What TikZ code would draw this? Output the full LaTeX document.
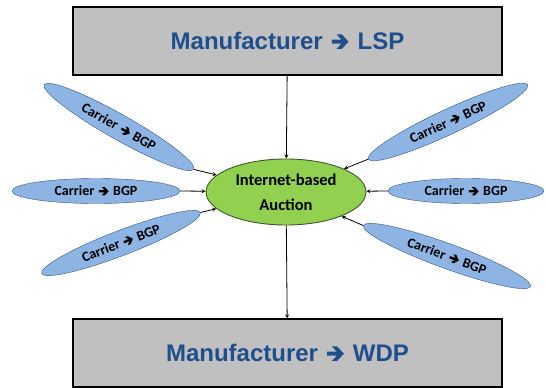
\documentclass[tikz,border=0pt]{standalone}
\usepackage{fontspec}
\setmainfont{Carlito}
\newfontfamily\arialfont{Liberation Sans}
\usetikzlibrary{shapes.geometric}
\definecolor{boxgray}{RGB}{192,192,192}
\definecolor{titleblue}{RGB}{31,78,140}
\definecolor{carrierfill}{RGB}{142,180,227}
\definecolor{carrierline}{RGB}{50,88,140}
\definecolor{auctionfill}{RGB}{146,208,80}
\definecolor{auctionline}{RGB}{60,90,35}
% dicker Pfeil wie im Original
\newcommand{\harr}{\hspace{0.1em}\tikz[baseline=-0.33em, x=1em, y=1em]
  \fill (0,0.085) -- (0.40,0.085) -- (0.20,0.30) -- (0.42,0.30) -- (0.70,0) -- (0.42,-0.30) -- (0.20,-0.30) -- (0.40,-0.085) -- (0,-0.085) -- cycle;\hspace{0.1em}}
\tikzset{
  party/.style={draw, line width=1.2pt, fill=boxgray, rectangle, minimum width=429pt, minimum height=68pt,
    font=\arialfont\bfseries\fontsize{24}{27}\selectfont, text=titleblue},
  carrier/.style={draw=carrierline, fill=carrierfill, ellipse, inner sep=0pt, minimum height=25pt,
    font=\bfseries\fontsize{14}{16}\selectfont},
  auction/.style={draw=auctionline, line width=0.9pt, fill=auctionfill, ellipse, minimum width=160pt, minimum height=66pt,
    align=center, font=\bfseries\fontsize{16.5}{25}\selectfont},
  link/.style={-stealth, thick}
}
\begin{document}
\begin{tikzpicture}[x=1pt, y=-1pt]
    \useasboundingbox (0,0) rectangle (546,388);
    % Ebenen oben und unten
    \node[party] (lsp) at (287.5,41) {Manufacturer \harr{} LSP};
    \node[party] (wdp) at (287.5,353) {Manufacturer \harr{} WDP};

    % Auktion in der Mitte
    \node[auction] (auction) at (286,192) {Internet-based\\Auction};

    % Spediteure links
    \node[carrier, minimum width=172pt, rotate=-29.5] (c1) at (119,127) {Carrier \harr{} BGP};
    \node[carrier, minimum width=168pt] (c2) at (96,191) {Carrier \harr{} BGP};
    \node[carrier, minimum width=170pt, rotate=21] (c3) at (121,243) {Carrier \harr{} BGP};

    % Spediteure rechts
    \node[carrier, minimum width=176pt, rotate=25] (c4) at (448,122) {Carrier \harr{} BGP};
    \node[carrier, minimum width=156pt] (c5) at (466,191) {Carrier \harr{} BGP};
    \node[carrier, minimum width=178pt, rotate=-20] (c6) at (447,256) {Carrier \harr{} BGP};

    % Pfeile
    \draw[link] (lsp) -- (auction);
    \draw[link] (auction) -- (wdp);
    \draw[link] (c1.east) -- (auction);
    \draw[link] (c2.east) -- (auction);
    \draw[link] (c3.east) -- (auction);
    \draw[link] (c4.west) -- (auction);
    \draw[link] (c5.west) -- (auction);
    \draw[link] (c6.west) -- (auction);
\end{tikzpicture}
\end{document}
